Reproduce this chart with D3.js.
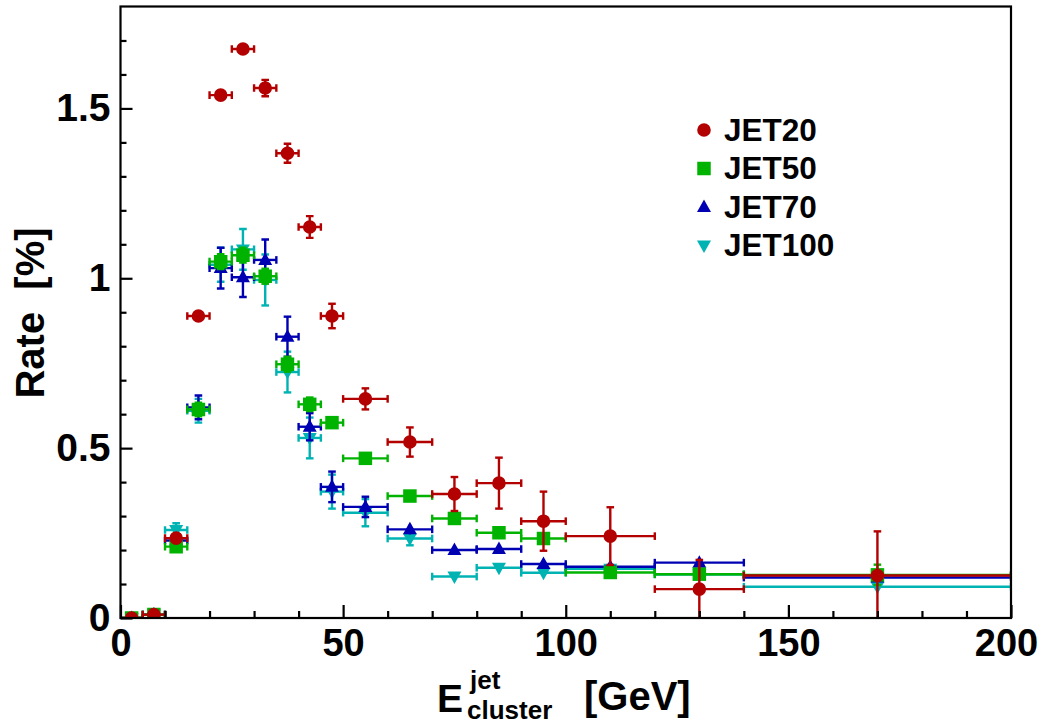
<!DOCTYPE html>
<html>
<head>
<meta charset="utf-8">
<script src="https://cdn.jsdelivr.net/npm/d3@7"></script>
<style>
  html, body { margin: 0; padding: 0; background: #fff; }
  svg { display: block; }
  text { font-family: "Liberation Sans", Arial, Helvetica, sans-serif; font-weight: bold; }
</style>
</head>
<body>
<svg id="chart" width="1048" height="725"></svg>
<script>
// ---- data ----
const binLo = [0, 5, 10, 15, 20, 25, 30, 35, 40, 45, 50, 60, 70, 80, 90, 100, 120, 140];
const binHi = [5, 10, 15, 20, 25, 30, 35, 40, 45, 50, 60, 70, 80, 90, 100, 120, 140, 200];

const jet20  = [0.0, 0.010, 0.235, 0.889, 1.539, 1.675, 1.560, 1.368, 1.151, 0.889, 0.645, 0.518, 0.365, 0.397, 0.285, 0.241, 0.085, 0.125];
const jet20E = [0.003, 0.005, 0.010, 0.010, 0.010, 0.010, 0.024, 0.028, 0.032, 0.036, 0.031, 0.043, 0.050, 0.075, 0.087, 0.085, 0.086, 0.130];

const jet50  = [0.0, 0.010, 0.210, 0.614, 1.049, 1.068, 1.006, 0.747, 0.629, 0.575, 0.470, 0.359, 0.293, 0.251, 0.234, 0.134, 0.129, 0.127];
const jet50E = [0.003, 0.005, 0.012, 0.020, 0.022, 0.022, 0.022, 0.022, 0.020, 0.016, 0.010, 0.010, 0.010, 0.010, 0.010, 0.010, 0.015, 0.030];

const jet70  = [0.0, 0.010, 0.228, 0.620, 1.030, 1.003, 1.054, 0.828, 0.563, 0.386, 0.327, 0.261, 0.200, 0.203, 0.159, 0.151, 0.163, 0.119];
const jet70E = [0.003, 0.005, 0.015, 0.035, 0.060, 0.058, 0.060, 0.059, 0.040, 0.045, 0.030, 0.015, 0.010, 0.010, 0.010, 0.010, 0.010, 0.010];

const jet100  = [0.0, 0.010, 0.259, 0.610, 1.040, 1.085, 0.995, 0.724, 0.530, 0.372, 0.310, 0.234, 0.122, 0.148, 0.133, 0.145, 0.128, 0.092];
const jet100E = [0.003, 0.005, 0.020, 0.035, 0.050, 0.060, 0.075, 0.060, 0.060, 0.050, 0.040, 0.020, 0.010, 0.010, 0.010, 0.010, 0.010, 0.010];

const seriesNames = ["JET20", "JET50", "JET70", "JET100"];
const yTickLabels = ["0", "0.5", "1", "1.5"];
const yTicks = [0, 0.5, 1, 1.5];
const xTicks = [0, 50, 100, 150, 200];

// ---- layout ----
const margin = { left: 120.5, right: 1048 - 1011, top: 6.5, bottom: 725 - 618 };
const W = 1048, H = 725;
const iw = W - margin.left - margin.right;
const ih = H - margin.top - margin.bottom;

const x = d3.scaleLinear().domain([0, 200]).range([0, iw]);
const y = d3.scaleLinear().domain([0, 1.8]).range([ih, 0]);

const svg = d3.select("#chart");
const g = svg.append("g").attr("transform", `translate(${margin.left},${margin.top})`);

svg.append("defs").append("clipPath").attr("id", "plotclip")
  .append("rect").attr("x", 0).attr("y", 0).attr("width", iw).attr("height", ih);

// series config (drawn bottom to top)
const series = [
  { name: "JET100", vals: jet100, errs: jet100E, color: "#00b3b3", shape: "tdown" },
  { name: "JET70",  vals: jet70,  errs: jet70E,  color: "#0000b3", shape: "tup" },
  { name: "JET50",  vals: jet50,  errs: jet50E,  color: "#00b300", shape: "square" },
  { name: "JET20",  vals: jet20,  errs: jet20E,  color: "#b30000", shape: "circle" }
];

function markerPath(shape) {
  if (shape === "circle") return d3.symbol(d3.symbolCircle, Math.PI * 6.8 * 6.8)();
  if (shape === "square") return d3.symbol(d3.symbolSquare, 13.5 * 13.5)();
  if (shape === "tup") return "M0,-7.5L7,5L-7,5Z";
  if (shape === "tdown") return "M0,7.5L7,-5L-7,-5Z";
}

const plot = g.append("g").attr("clip-path", "url(#plotclip)");
const cap = 3.8;
const lw = 2.4;

series.forEach(s => {
  const sg = plot.append("g");
  const pts = s.vals.map((v, i) => ({ lo: binLo[i], hi: binHi[i], c: (binLo[i] + binHi[i]) / 2, v: v, e: s.errs[i] }));
  pts.forEach(p => {
    const cx = x(p.c), cy = y(p.v);
    sg.append("line").attr("x1", x(p.lo)).attr("x2", x(p.hi)).attr("y1", cy).attr("y2", cy)
      .attr("stroke", s.color).attr("stroke-width", lw);
    sg.append("line").attr("x1", x(p.lo)).attr("x2", x(p.lo)).attr("y1", cy - cap).attr("y2", cy + cap)
      .attr("stroke", s.color).attr("stroke-width", lw);
    sg.append("line").attr("x1", x(p.hi)).attr("x2", x(p.hi)).attr("y1", cy - cap).attr("y2", cy + cap)
      .attr("stroke", s.color).attr("stroke-width", lw);
    const yt = y(p.v + p.e), yb = y(p.v - p.e);
    sg.append("line").attr("x1", cx).attr("x2", cx).attr("y1", yt).attr("y2", yb)
      .attr("stroke", s.color).attr("stroke-width", lw);
    if (cy - yt > 6) {
      sg.append("line").attr("x1", cx - cap).attr("x2", cx + cap).attr("y1", yt).attr("y2", yt)
        .attr("stroke", s.color).attr("stroke-width", lw);
      sg.append("line").attr("x1", cx - cap).attr("x2", cx + cap).attr("y1", yb).attr("y2", yb)
        .attr("stroke", s.color).attr("stroke-width", lw);
    }
  });
  sg.selectAll("path.m").data(pts).join("path").attr("class", "m")
    .attr("d", markerPath(s.shape))
    .attr("transform", p => `translate(${x(p.c)},${y(p.v)})`)
    .attr("fill", s.color);
});

// ---- frame and axes ----
g.append("rect").attr("x", 0).attr("y", 0).attr("width", iw).attr("height", ih)
  .attr("fill", "none").attr("stroke", "#000").attr("stroke-width", 2.2);

const yMinor = d3.range(0, 18).map(d => d / 10).filter(d => yTicks.indexOf(d) < 0);
g.append("g").call(d3.axisLeft(y).tickValues(yMinor).tickSize(-6).tickFormat(""))
  .call(a => a.select(".domain").remove())
  .call(a => a.selectAll("line").attr("stroke-width", 2.2));
g.append("g").call(d3.axisLeft(y).tickValues(yTicks).tickSize(-12).tickPadding(10)
    .tickFormat((d, i) => yTickLabels[i]))
  .call(a => a.select(".domain").remove())
  .call(a => a.selectAll("line").attr("stroke-width", 2.2))
  .call(a => a.selectAll("text").attr("font-size", 39).attr("font-family", "Liberation Sans, Arial, sans-serif")
    .attr("font-weight", "bold").attr("fill", "#000"));

const xMinor = d3.range(0, 201, 10).filter(d => xTicks.indexOf(d) < 0);
g.append("g").attr("transform", `translate(0,${ih})`)
  .call(d3.axisBottom(x).tickValues(xMinor).tickSize(-7).tickFormat(""))
  .call(a => a.select(".domain").remove())
  .call(a => a.selectAll("line").attr("stroke-width", 2.2));
g.append("g").attr("transform", `translate(0,${ih})`)
  .call(d3.axisBottom(x).tickValues(xTicks).tickSize(-13).tickPadding(11).tickFormat(d3.format("d")))
  .call(a => a.select(".domain").remove())
  .call(a => a.selectAll("line").attr("stroke-width", 2.2))
  .call(a => a.selectAll("text").attr("font-size", 38).attr("font-family", "Liberation Sans, Arial, sans-serif")
    .attr("font-weight", "bold").attr("fill", "#000"))
  .call(a => a.selectAll(".tick").filter(d => d === 200).select("text").attr("dx", -5));

// ---- axis titles ----
svg.append("text").attr("transform", "translate(44,313) rotate(-90)")
  .attr("text-anchor", "middle").attr("font-size", 40).attr("fill", "#000")
  .attr("xml:space", "preserve").text("Rate  [%]");

const xt = svg.append("g");
xt.append("text").attr("x", 437).attr("y", 712).attr("font-size", 39).text("E");
xt.append("text").attr("x", 470).attr("y", 689).attr("font-size", 26).text("jet");
xt.append("text").attr("x", 467).attr("y", 719).attr("font-size", 26).text("cluster");
xt.append("text").attr("x", 584).attr("y", 710).attr("font-size", 40).text("[GeV]");

// ---- legend ----
const legendOrder = ["JET20", "JET50", "JET70", "JET100"];
const lg = svg.append("g");
legendOrder.forEach((nm, i) => {
  const s = series.find(d => d.name === nm);
  const cy = 130 + i * 38.5;
  lg.append("path").attr("d", markerPath(s.shape)).attr("transform", `translate(704,${cy})`).attr("fill", s.color);
  lg.append("text").attr("x", 724).attr("y", cy + 10.5).attr("font-size", 31.5).attr("fill", "#000").text(nm);
});
</script>
</body>
</html>
